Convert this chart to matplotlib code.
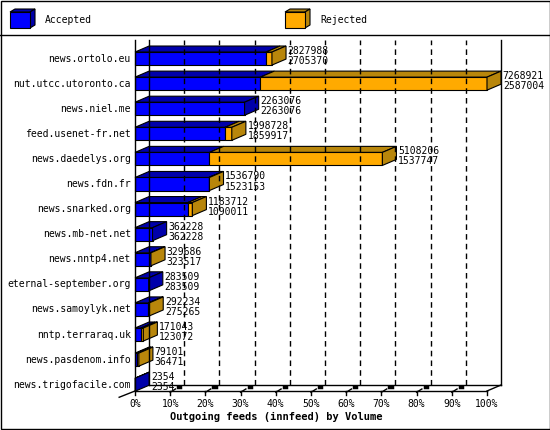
import matplotlib.pyplot as plt
from matplotlib.patches import Polygon, Rectangle

hosts = ['news.ortolo.eu', 'nut.utcc.utoronto.ca', 'news.niel.me', 'feed.usenet-fr.net',
         'news.daedelys.org', 'news.fdn.fr', 'news.snarked.org', 'news.mb-net.net',
         'news.nntp4.net', 'eternal-september.org', 'news.samoylyk.net', 'nntp.terraraq.uk',
         'news.pasdenom.info', 'news.trigofacile.com']
offered = [2827988, 7268921, 2263076, 1998728, 5108206, 1536790, 1183712, 362228,
           329686, 283509, 292234, 171043, 79101, 2354]
accepted = [2705370, 2587004, 2263076, 1859917, 1537747, 1523153, 1090011, 362228,
            323517, 283509, 275265, 123072, 36471, 2354]
ticks = ['0%', '10%', '20%', '30%', '40%', '50%', '60%', '70%', '80%', '90%', '100%']

BLUE, BLUE_D = '#0000ff', '#0000aa'
ORANGE, ORANGE_D = '#ffaa00', '#b8860b'
FONT = 'DejaVu Sans Mono'

fig = plt.figure(figsize=(5.5, 4.3), dpi=100)

# overlay in pixel coords for frames and legend
ov = fig.add_axes([0, 0, 1, 1])
ov.set_xlim(0, 550)
ov.set_ylim(430, 0)
ov.axis('off')
ov.add_patch(Rectangle((0.5, 0.5), 549, 428, fill=False, lw=1))
ov.plot([0, 550], [35, 35], color='black', lw=1)


def box3d(a, x, y, w, h, dx, dy, front, dark):
    a.add_patch(Polygon([(x, y), (x + dx, y - dy), (x + w + dx, y - dy), (x + w, y)],
                        closed=True, fc=dark, ec='black', lw=0.8, clip_on=False))
    a.add_patch(Polygon([(x + w, y), (x + w + dx, y - dy), (x + w + dx, y + h - dy), (x + w, y + h)],
                        closed=True, fc=dark, ec='black', lw=0.8, clip_on=False))
    a.add_patch(Polygon([(x, y), (x + w, y), (x + w, y + h), (x, y + h)],
                        closed=True, fc=front, ec='black', lw=0.8, clip_on=False))


box3d(ov, 10, 12, 20, 16, 5, 3, BLUE, BLUE_D)
ov.text(45, 20, 'Accepted', family=FONT, fontsize=7, va='center')
box3d(ov, 285, 12, 20, 16, 5, 3, ORANGE, ORANGE_D)
ov.text(320, 20, 'Rejected', family=FONT, fontsize=7, va='center')

# main axes: x in percent, y in bar index
ax = fig.add_axes([135 / 550, (430 - 391) / 430, 352 / 550, 351 / 430])
ax.set_xlim(0, 100)
ax.set_ylim(13.25, -0.74)
ax.axis('off')
dx, dy = 4.0, 0.24
floor = 13.25
top = -0.74

for k in range(1, 10):
    ax.plot([10 * k + dx] * 2, [floor - dy, top], color='black', lw=1, ls=(0, (4, 3)), clip_on=False)
ax.plot([0, 0], [floor, top], color='black', lw=1, clip_on=False)
ax.plot([dx, dx], [floor - dy, top], color='black', lw=1, clip_on=False)
ax.plot([100 + dx] * 2, [floor - dy, top], color='black', lw=1, clip_on=False)
ax.plot([0, 100], [floor, floor], color='black', lw=1, clip_on=False)
ax.plot([dx, 100 + dx], [floor - dy, floor - dy], color='black', lw=1, clip_on=False)
ax.plot([0, -4.5], [floor, floor + 0.25], color='black', lw=1, clip_on=False)
ax.plot([100, 100 + dx], [floor, floor - dy], color='black', lw=1, clip_on=False)
for k, lab in enumerate(ticks):
    x = 10 * k
    ax.plot([x, x], [floor, floor + 0.15], color='black', lw=1, clip_on=False)
    if 0 < k < 10:
        ax.plot([x, x + 1.5], [floor + 0.05, floor - 0.08], color='black', lw=1, clip_on=False)
        ax.plot([x + 2.3, x + 2.9], [floor - 0.14, floor - 0.14], color='black', lw=2.5, clip_on=False)
    ax.text(x, floor + 0.5, lab, family=FONT, fontsize=7, ha='center', va='center')
ax.text(40, floor + 1.05, 'Outgoing feeds (innfeed) by Volume', family=FONT, fontsize=7.5,
        weight='bold', ha='center', va='center')

mx = max(offered)
h = 0.52
for i, name in enumerate(hosts):
    a = accepted[i] / mx * 100
    t = offered[i] / mx * 100
    y0 = i - h / 2
    y1 = i + h / 2
    segs = [(0, a, BLUE, BLUE_D)]
    if t > a:
        segs.append((a, t, ORANGE, ORANGE_D))
    for x0, x1, fc, dk in segs:
        ax.add_patch(Polygon([(x0, y0), (x0 + dx, y0 - dy), (x1 + dx, y0 - dy), (x1, y0)],
                             closed=True, fc=dk, ec='black', lw=0.8, clip_on=False))
        ax.add_patch(Polygon([(x0, y0), (x1, y0), (x1, y1), (x0, y1)],
                             closed=True, fc=fc, ec='black', lw=0.8, clip_on=False))
    side = segs[-1][3]
    ax.add_patch(Polygon([(t, y0), (t + dx, y0 - dy), (t + dx, y1 - dy), (t, y1)],
                         closed=True, fc=side, ec='black', lw=0.8, clip_on=False))
    ax.text(t + dx + 0.5, i - 0.3, str(offered[i]), family=FONT, fontsize=7, va='center')
    ax.text(t + dx + 0.5, i + 0.1, str(accepted[i]), family=FONT, fontsize=7, va='center')
    ax.text(-1.2, i, name, family=FONT, fontsize=7, ha='right', va='center')

fig.savefig('out.png', dpi=100)
